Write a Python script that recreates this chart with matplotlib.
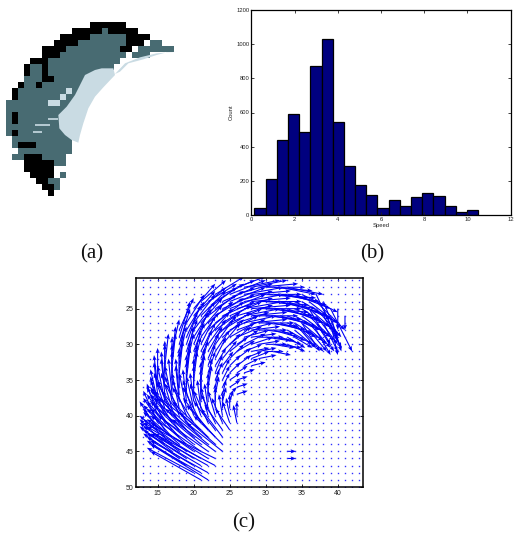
import numpy as np
import matplotlib
matplotlib.use("Agg")
import matplotlib.pyplot as plt
from matplotlib.colors import ListedColormap

W, H = 514, 536

# panel (a): class map, one entry per row of cells, first column index is 0
MAP_ROWS = [
    "B15-20", "B12-16 T17 B18-22", "B10-14 T15-20 B21-24",
    "B9-12 T13-20 B21-23 T25-26", "B7-10 T11-19 B20-21 T23-28",
    "B7-9 T10-20 T22-24", "B5-7 T8-19", "B4 T5-6 B7 T8-18",
    "B4 T5-6 B7 T8-17", "T4-6 B7-8 T9-16", "B3 T4-5 B6 T7-16",
    "B2 T3-10 L11 T12-15", "B2 T3-9 L10 T11-14", "T1-7 L8-9 T10-13",
    "T1-13", "T1 B2 T3-12", "T1 B2 T3-12", "T1-12",
    "T1 B2 T3-11", "T2-11", "T2 B3-5 T6-11", "T3-11",
    "T2-3 B4-6 T7-10", "B4-8 T9-10", "B4-8", "B5-8 T10",
    "B6-7 T8-9", "B7-8 T9", "B8",
]
LIGHT_X = [305, 340, 345, 310, 285, 265, 250, 240, 235, 215, 195, 178, 175, 200, 225, 255, 285]
LIGHT_Y = [205, 205, 225, 262, 290, 325, 370, 405, 428, 420, 405, 385, 345, 320, 285, 225, 210]
STRIP_X = [345, 375, 420, 470, 535, 500, 470, 430, 385, 360]
STRIP_Y = [222, 190, 172, 160, 155, 157, 165, 178, 190, 215]
STREAK_X0 = [105, 100, 145]
STREAK_X1 = [150, 125, 175]
STREAK_Y = [376, 396, 358]

# panel (b): histogram
BAR_LEFT = [0.14 + 0.518 * i for i in range(20)]
BAR_COUNT = [40, 210, 440, 590, 485, 870, 1030, 545, 285, 175,
             115, 40, 90, 55, 105, 130, 110, 50, 15, 30]

# panel (c): flow field, per image row: y, first x, then u and v for consecutive x
FLOW = [
    (22, 26, [4, 5, 5, 5.5, 5.5, 5.5, 5, 5], [-1.5, -1, -1, -.5, 0, .5, 1, 1]),
    (23, 23, [4, 4.5, 5, 5, 5.5, 5.5, 6, 6, 6, 5.5, 5.5, 5, 5],
     [-2.5, -2, -2, -1.5, -1, -.5, 0, .5, .5, 1, 1.5, 2, 2.5]),
    (24, 21, [3.5, 4, 4, 4.5, 5, 5, 5.5, 5.5, 6, 6, 6, 5.5, 5.5, 5, 5, 4.5, 4],
     [-3, -2.5, -2.5, -2, -2, -1.5, -1, -.5, 0, .5, 1, 1.5, 2, 2.5, 3, 3.5, 4]),
    (25, 20, [3, 3.5, 4, 4, 4.5, 5, 5, 5.5, 5.5, 6, 6, 5.5, 5.5, 5, 5, 4.5, 4, 3.5, 2],
     [-3.5, -3, -3, -2.5, -2, -2, -1.5, -1, -.5, 0, .5, 1, 1.5, 2, 2.5, 3, 3.5, 4, 4.5]),
    (26, 20, [3, 3.5, 4, 4, 4.5, 4.5, 5, 5, 5, 5.5, 5, 5, 5, 4.5, 4.5, 4, 3.5, 3, 2.5, 1.5],
     [-3.5, -3.5, -3, -2.5, -2, -2, -1.5, -1, -.5, 0, .5, 1, 1.5, 2, 2.5, 3, 3.5, 4, 4.5, 5]),
    (27, 19, [2.5, 3, 3, 3.5, 4, 4, 4.5, 4.5, 4.5, 5, 5, 4.5, 4.5, 4.5, 4, 4, 3.5, 3, 2.5, 2, 1],
     [-4, -4, -3.5, -3, -3, -2.5, -2, -1.5, -1, -.5, 0, .5, 1, 1.5, 2, 2.5, 3, 3.5, 4, 4, 4.5]),
    (28, 18, [2, 2.5, 3, 3, 3.5, 3.5, 4, 4, 4, 4, 4, 4, 4, 3.5, 3.5, 3.5, 3, 3, 2.5, 2],
     [-4.5, -4, -4, -3.5, -3, -2.5, -2.5, -2, -1.5, -1, -.5, 0, .5, 1, 1.5, 2, 2.5, 3, 3, 3.5]),
    (29, 18, [1.5, 2, 2.5, 2.5, 3, 3, 3, 3.5, 3.5, 3.5, 3.5, 3.5, 3.5, 3, 3, 2.5, 2.5],
     [-5, -4.5, -4, -3.5, -3.5, -3, -2.5, -2, -1.5, -1, -.5, 0, .5, .5, 1, 1.5, 1.5]),
    (30, 18, [1.5, 1.5, 2, 2, 2.5, 2.5, 2.5, 3, 3, 3, 3, 3, 3, 3, 3, 2.5],
     [-5, -4.5, -4.5, -4, -3.5, -3.5, -3, -2.5, -2, -1.5, -1, -.5, 0, .5, .5, 1]),
    (31, 17, [1, 1, 1.5, 1.5, 2, 2, 2, 2.5, 2.5, 2.5, 2.5, 2.5, 2.5, 2.5, 2.5],
     [-4.5, -4.5, -4.5, -4, -4, -3.5, -3, -2.5, -2, -1.5, -1, -.5, -.5, 0, .5]),
    (32, 17, [.5, 1, 1, 1, 1.5, 1.5, 1.5, 2, 2, 2, 2.5, 2.5, 2.5],
     [-4.5, -4.5, -4.5, -4, -4, -3.5, -3, -2.5, -2, -1.5, -1, -1, -.5]),
    (33, 16, [.5, .5, .5, 1, 1, 1, 1, 1.5, 1.5, 1.5, 2, 2, 2],
     [-4.5, -4.5, -4.5, -4.5, -4, -3.5, -3, -2.5, -2, -1.5, -1.5, -1, -.5]),
    (34, 16, [0, 0, .5, .5, .5, .5, 1, 1, 1, 1.5, 1.5, 1.5],
     [-4.5, -5, -4.5, -4.5, -4, -3.5, -3, -2.5, -2, -1.5, -1, -.5]),
    (35, 15, [0, 0, 0, 0, .5, .5, .5, .5, 1, 1, 1.5, 1.5],
     [-4.5, -5, -5, -4.5, -4.5, -4, -3.5, -3, -2.5, -2, -1, -.5]),
    (36, 15, [-.5, -.5, 0, 0, 0, 0, 0, .5, .5, 1, 1.5, 1.5],
     [-4.5, -5, -5, -5, -4.5, -4, -3.5, -3, -2.5, -2, -1, -.5]),
    (37, 15, [-.5, -.5, -.5, -.5, 0, 0, 0, 0, .5, .5, 1, 1.5],
     [-4.5, -5, -5, -5, -4.5, -4, -3.5, -3, -2.5, -2, -1, -.5]),
    (38, 15, [-1, -1, -1, -.5, -.5, -.5, 0, 0, 0, .5, .5],
     [-4.5, -5, -5, -5, -4.5, -4, -3.5, -3, -2.5, -2, -1.5]),
    (39, 15, [-1, -1.5, -1.5, -1, -1, -1, -.5, -.5, 0, 0, 0],
     [-4.5, -5, -5, -5, -5, -4.5, -4, -3.5, -3, -2.5, -2]),
    (40, 15, [-1.5, -2, -2, -2, -2, -1.5, -1.5, -1, -1, -.5, -.5, 0],
     [-4.5, -5, -5, -5.5, -5, -5, -4.5, -4, -3.5, -3, -2.5, -2]),
    (41, 15, [-2, -2.5, -3, -3, -3, -3, -2.5, -2, -2, -1.5, -1, -.5],
     [-4.5, -5, -5, -5.5, -5.5, -5, -5, -4.5, -4, -3.5, -3, -2.5]),
    (42, 15, [-2.5, -3, -3.5, -4, -4.5, -4.5, -7, -3.5, -3, -2.5, -2],
     [-4, -4.5, -5, -5, -5.5, -5.5, -5.5, -4.5, -4, -3.5, -3]),
    (43, 16, [-3, -4, -4.5, -5, -5.5, -6, -5, -4, -3], [-4, -4.5, -5, -5, -5.5, -5.5, -5, -4.5, -4]),
    (44, 16, [-3.5, -4.5, -5, -5.5, -6, -6.5, -6, -5, -4], [-3.5, -4, -4.5, -5, -5, -5.5, -5, -4.5, -4]),
    (45, 17, [-4.5, -5.5, -6, -6.5, -7, -7, -6, -5], [-3.5, -4, -4.5, -4.5, -5, -5, -4.5, -4]),
    (46, 18, [-5, -6, -7, -7.5, -8, -10], [-3.5, -4, -4.5, -4.5, -5, -5]),
    (47, 19, [-5.5, -6.5, -7.5, -8, -8.5], [-3.5, -4, -4.5, -4.5, -4.5]),
    (48, 20, [-6.5, -7, -8], [-3.5, -4, -4.5]),
    (49, 21, [-7, -8], [-4, -5]),
]
EXTRA_X = [40, 41, 33, 33, 37, 39, 38, 36, 35, 34]
EXTRA_Y = [25, 26, 45, 46, 23, 25, 24, 25, 27, 27]
EXTRA_U = [0, 0, 1.2, 1.2, 3.5, 3, 2, 3, 2.5, 3]
EXTRA_V = [3, 2, 0, 0, 7.5, 6, 5, 5, 4, 3.5]

plt.rcParams["font.family"] = ["Liberation Sans", "DejaVu Sans"]
fig = plt.figure(figsize=(W / 100, H / 100), dpi=100)


def px_axes(left, top, right, bottom):
    return fig.add_axes([left / W, 1 - bottom / H, (right - left) / W, (bottom - top) / H])


# (a)
ax_a = px_axes(0, 0, 200, 220)
grid = np.zeros((len(MAP_ROWS), 30), dtype=int)
codes = {"T": 1, "L": 2, "B": 3}
for r, row in enumerate(MAP_ROWS):
    for run in row.split():
        ends = run[1:].split("-")
        grid[r, int(ends[0]):int(ends[-1]) + 1] = codes[run[0]]
cmap = ListedColormap(["white", "#486b72", "#c9dbe3", "black"])
ax_a.imshow(grid, cmap=cmap, vmin=0, vmax=3, interpolation="nearest", aspect="auto",
            extent=(1, 541, 65 + 18 * len(MAP_ROWS), 65))
ax_a.fill(LIGHT_X, LIGHT_Y, color="#c9dbe3", lw=0)
ax_a.fill(STRIP_X, STRIP_Y, color="#c9dbe3", lw=0)
ax_a.hlines(STREAK_Y, STREAK_X0, STREAK_X1, color="#c9dbe3", lw=1.2)
ax_a.set_xlim(0, 600)
ax_a.set_ylim(660, 0)
ax_a.axis("off")

# (b)
ax_b = px_axes(251.3, 10, 510.7, 215)
ax_b.bar(BAR_LEFT, BAR_COUNT, width=0.518, align="edge", color="#00007f", edgecolor="black", lw=0.9)
ax_b.set_xlim(0, 12)
ax_b.set_ylim(0, 1200)
ax_b.set_xticks(range(0, 13, 2))
ax_b.set_yticks(range(0, 1201, 200))
ax_b.tick_params(direction="in", length=2, width=0.6, labelsize=4.2, pad=1.5,
                 top=True, right=True, colors="#222222")
ax_b.set_xlabel("Speed", fontsize=4.2, labelpad=1, color="#222222")
ax_b.set_ylabel("Count", fontsize=4.2, labelpad=1.5, color="#222222")
for s in ax_b.spines.values():
    s.set_linewidth(0.9)

# (c)
ax_c = px_axes(136, 278, 363, 487)
gx, gy = np.meshgrid(np.arange(13, 44), np.arange(21, 51))
ax_c.plot(gx.ravel(), gy.ravel(), ls="none", marker="s", ms=1.0, mew=0, color="#3030ff")
xs, ys, us, vs = list(EXTRA_X), list(EXTRA_Y), list(EXTRA_U), list(EXTRA_V)
for y0, x0, u_row, v_row in FLOW:
    for i, (u, v) in enumerate(zip(u_row, v_row)):
        xs.append(x0 + i)
        ys.append(y0)
        us.append(u)
        vs.append(v)
ax_c.quiver(xs, ys, us, vs, angles="xy", scale_units="xy", scale=1, color="#0000f5",
            width=0.0048, headwidth=3.8, headlength=5, headaxislength=4.2)
ax_c.set_xlim(12, 43.5)
ax_c.set_ylim(50, 20.7)
ax_c.set_xticks(range(15, 41, 5))
ax_c.set_yticks(range(25, 51, 5))
ax_c.tick_params(direction="in", length=2, width=0.7, labelsize=5, pad=2,
                 top=True, right=True, colors="#222222")
for s in ax_c.spines.values():
    s.set_linewidth(1.1)

# captions
for label, x, y in [("(a)", 92, 254), ("(b)", 372, 254), ("(c)", 244, 523)]:
    fig.text(x / W, 1 - y / H, label, family="Liberation Serif", fontsize=15,
             ha="center", va="center", color="#111111")

fig.savefig("out.png", dpi=100)
